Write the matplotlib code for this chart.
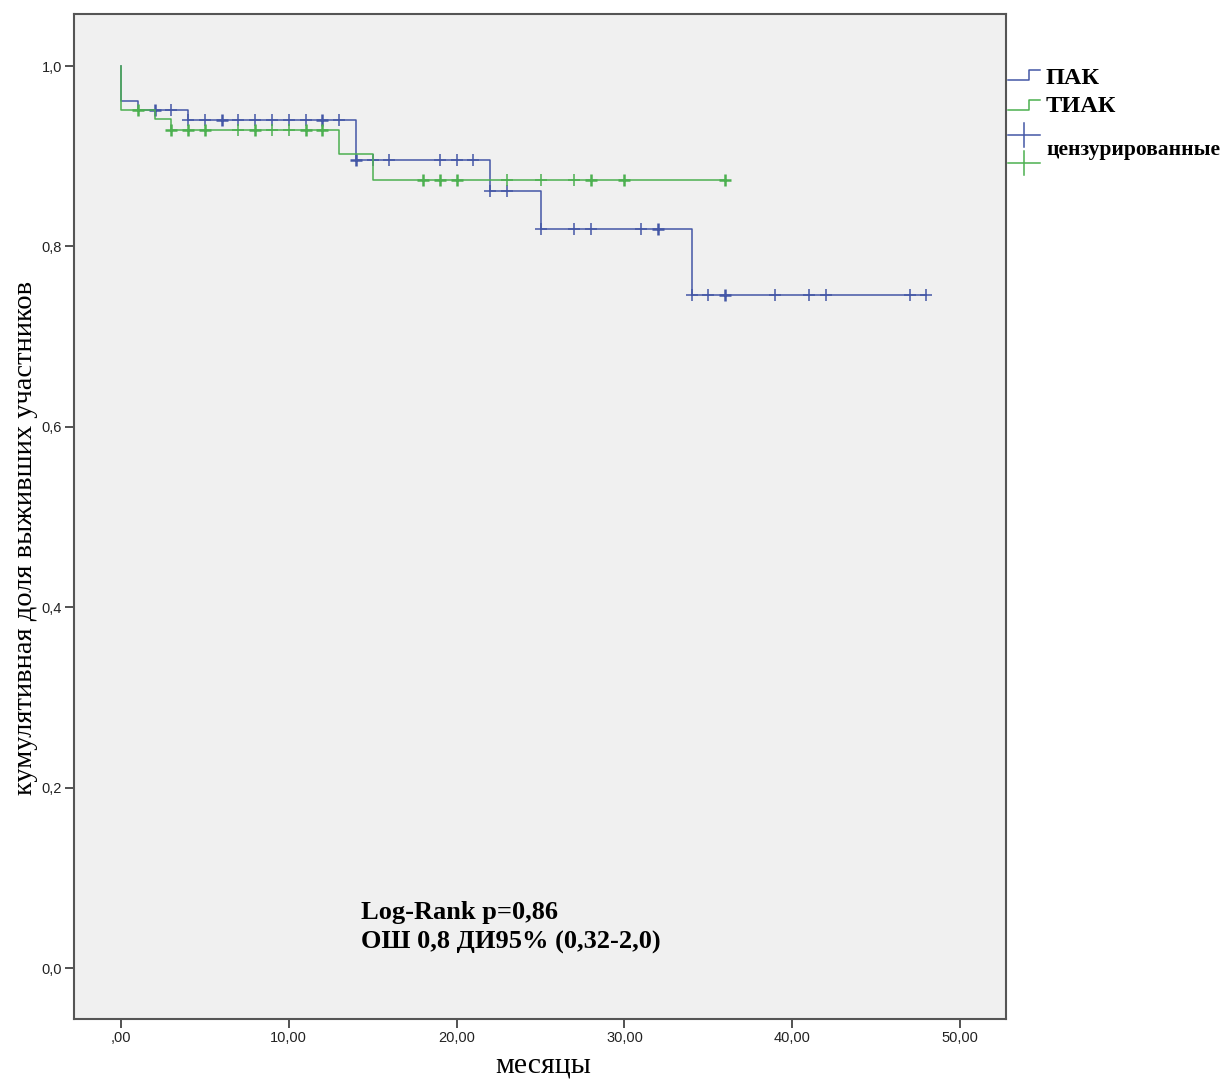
import numpy as np
import matplotlib
matplotlib.use("Agg")
import matplotlib.pyplot as plt
from matplotlib.lines import Line2D
from matplotlib.ticker import FuncFormatter

# Kaplan-Meier steps: event times and survival right after each event
pak_events = [0, 1, 4, 14, 22, 25, 34]
pak_surv = [0.961, 0.951, 0.940, 0.896, 0.861, 0.819, 0.746]
pak_end = 48
pak_cens = [2, 3, 4, 5, 6, 7, 8, 9, 10, 11, 12, 13, 14, 15, 16, 19, 20, 21,
            22, 23, 25, 27, 28, 31, 32, 34, 35, 36, 39, 41, 42, 47, 48]
pak_multi = [2, 6, 12, 14, 32, 36]

tiak_events = [0, 2, 3, 13, 15]
tiak_surv = [0.951, 0.941, 0.929, 0.902, 0.874]
tiak_end = 36
tiak_cens = [1, 3, 4, 5, 7, 8, 9, 10, 11, 12, 18, 19, 20, 23, 25, 27, 28, 30, 36]
tiak_multi = [1, 3, 4, 5, 8, 11, 12, 18, 19, 20, 28, 30, 36]

x_ticks = [0, 10, 20, 30, 40, 50]
y_ticks = [0.0, 0.2, 0.4, 0.6, 0.8, 1.0]

BLUE = "#4457a6"
GREEN = "#4cb050"
W, H = 1227, 1082

fig = plt.figure(figsize=(W / 100, H / 100), dpi=100)
ax = fig.add_axes([74 / W, 1 - 1019 / H, (1006 - 74) / W, (1019 - 14) / H])
ax.set_facecolor("#f0f0f0")


def surv_at(events, surv, t):
    i = np.searchsorted(events, t, side="right") - 1
    return surv[i]


def draw_group(events, surv, end, cens, multi, color):
    xs = [0] + list(events) + [end]
    ys = [1.0] + list(surv) + [surv[-1]]
    ax.step(xs, ys, where="post", color=color, lw=1.1)
    for t in cens:
        y = surv_at(events, surv, t)
        mew = 1.8 if t in multi else 1.1
        ax.plot(t, y, marker="+", ms=9, mew=mew, color=color, ls="none")


draw_group(pak_events, pak_surv, pak_end, pak_cens, pak_multi, BLUE)
draw_group(tiak_events, tiak_surv, tiak_end, tiak_cens, tiak_multi, GREEN)

ax.set_xlim(-2.8, 52.74)
ax.set_ylim(-0.0565, 1.0577)
ax.set_xticks(x_ticks)
ax.set_yticks(y_ticks)
ax.xaxis.set_major_formatter(FuncFormatter(lambda v, p: ",00" if v == 0 else f"{v:.2f}".replace(".", ",")))
ax.yaxis.set_major_formatter(FuncFormatter(lambda v, p: f"{v:.1f}".replace(".", ",")))
ax.tick_params(direction="out", length=6.8, width=1.3, color="#444444",
               labelsize=10.5, labelcolor="#222222", pad=2)
for lab in ax.get_xticklabels() + ax.get_yticklabels():
    lab.set_family(["Liberation Sans", "DejaVu Sans"])
for s in ax.spines.values():
    s.set_color("#555555")
    s.set_linewidth(1.5)

serif = ["Liberation Serif", "DejaVu Serif"]

ax.text((361 - 121) / 16.78, (968 - 912) / 902, "Log-Rank p=0,86", family=serif,
        fontweight="bold", fontsize=19, va="center", ha="left")
ax.text((361 - 121) / 16.78, (968 - 942) / 902, "ОШ 0,8 ДИ95% (0,32-2,0)", family=serif,
        fontweight="bold", fontsize=19, va="center", ha="left")

fig.text(26 / W, 1 - 538 / H, "кумулятивная доля выживших участников", family=serif,
         fontsize=20.5, rotation=90, ha="center", va="center")
fig.text(543 / W, 1 - 1066 / H, "месяцы", family=serif, fontsize=21.5,
         ha="center", va="center")


# legend drawn outside the axes
def fx(x):
    return x / W


def fy(y):
    return 1 - y / H


def step_icon(y_lo, y_hi, color):
    fig.add_artist(Line2D([fx(1008), fx(1029), fx(1029), fx(1040)],
                          [fy(y_lo), fy(y_lo), fy(y_hi), fy(y_hi)],
                          color=color, lw=1.1))


def plus_icon(yc, color):
    fig.add_artist(Line2D([fx(1008), fx(1040)], [fy(yc), fy(yc)], color=color, lw=1.1))
    fig.add_artist(Line2D([fx(1024), fx(1024)], [fy(yc - 12), fy(yc + 12)], color=color, lw=1.1))


step_icon(80, 70, BLUE)
step_icon(110, 100, GREEN)
plus_icon(135, BLUE)
plus_icon(163, GREEN)
fig.text(fx(1046), fy(78), "ПАК", family=serif, fontweight="bold", fontsize=17.5, va="center")
fig.text(fx(1046), fy(107), "ТИАК", family=serif, fontweight="bold", fontsize=17.5, va="center")
fig.text(fx(1046), fy(150), "цензурированные", family=serif, fontweight="bold",
         fontsize=15.5, va="center")

fig.savefig("out.png", dpi=100, facecolor="white")
